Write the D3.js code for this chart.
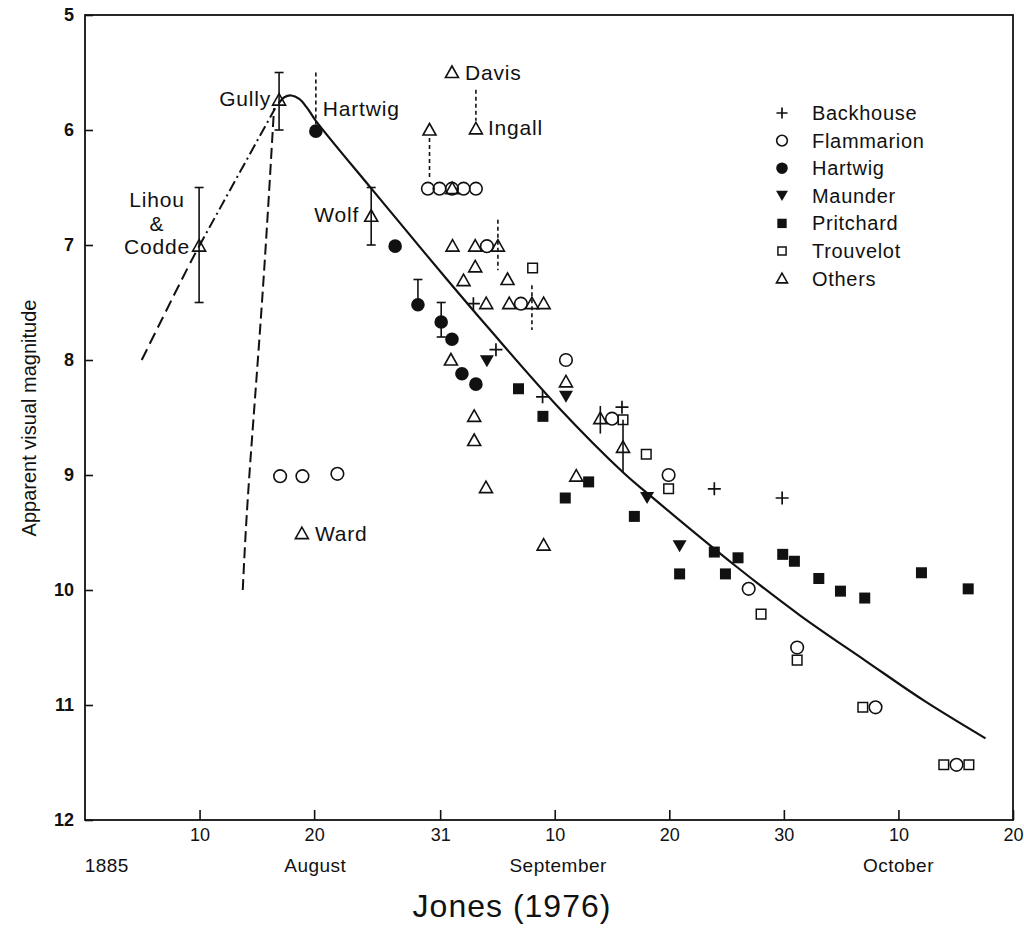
<!DOCTYPE html>
<html lang="en">
<head>
<meta charset="utf-8">
<title>S Andromedae 1885 light curve</title>
<script src="https://cdn.jsdelivr.net/npm/d3@7"></script>
<style>
  body { margin: 0; background: #fff; }
  text { font-family: "Liberation Sans", Arial, sans-serif; fill: #111; }
</style>
</head>
<body>
<script>
// x values are day numbers counted from 1 August 1885 (1 Sep = 32, 1 Oct = 62)
var xTicks = [10, 20, 31, 41, 51, 61, 71, 81];
var xTickLabels = ["10", "20", "31", "10", "20", "30", "10", "20"];
var yTicks = [5, 6, 7, 8, 9, 10, 11, 12];
var monthLabels = ["1885", "August", "September", "October"];
var observers = ["Backhouse", "Flammarion", "Hartwig", "Maunder", "Pritchard", "Trouvelot", "Others"];

var backhouse = [[33.9, 7.51], [35.87, 7.91], [39.94, 8.32], [46.87, 8.41], [54.93, 9.12], [60.85, 9.2]];
var flammarion = [[17.03, 9.01], [18.98, 9.01], [22.03, 8.99],
    [29.93, 6.51], [30.94, 6.51], [32.03, 6.51], [33.04, 6.51], [34.12, 6.51],
    [35.08, 7.01], [38.05, 7.51], [41.98, 8.0], [46.0, 8.51], [50.94, 9.0],
    [57.93, 9.99], [62.16, 10.5], [69.0, 11.02], [76.07, 11.52]];
var hartwig = [[20.15, 6.01], [27.07, 7.01], [29.06, 7.52], [31.09, 7.67], [32.03, 7.82], [32.9, 8.12], [34.12, 8.21]];
var maunder = [[35.08, 8.01], [41.98, 8.32], [49.06, 9.2], [51.9, 9.62]];
var pritchard = [[37.84, 8.25], [39.97, 8.49], [41.92, 9.2], [43.96, 9.06], [47.95, 9.36], [51.9, 9.86],
    [54.93, 9.67], [55.9, 9.86], [57.0, 9.72], [60.9, 9.69], [61.92, 9.75], [64.05, 9.9],
    [65.94, 10.01], [68.06, 10.07], [73.01, 9.85], [77.09, 9.99]];
var trouvelot = [[39.07, 7.2], [46.96, 8.52], [48.99, 8.82], [50.94, 9.12], [59.01, 10.21],
    [62.16, 10.61], [67.89, 11.02], [74.96, 11.52], [77.15, 11.52]];
var others = [[9.96, 7.01], [16.94, 5.74], [24.98, 6.75], [32.03, 5.5], [34.12, 5.99], [30.07, 6.0],
    [32.05, 6.51], [32.08, 7.01], [34.06, 7.01], [36.04, 7.01], [34.06, 7.19], [33.04, 7.31],
    [36.88, 7.3], [35.02, 7.51], [37.03, 7.51], [39.01, 7.51], [40.03, 7.51], [31.94, 8.0],
    [33.97, 8.49], [33.97, 8.7], [35.0, 9.11], [41.98, 8.19], [42.88, 9.01], [44.98, 8.51],
    [46.96, 8.76], [18.93, 9.51], [40.03, 9.61]];

// error bars: day, bright end, faint end, capped
var errorBars = [[9.96, 6.5, 7.5, true], [16.94, 5.5, 6.0, true], [24.98, 6.5, 7.0, true],
    [29.06, 7.3, 7.52, true], [31.09, 7.5, 7.8, true], [44.98, 8.4, 8.64, false], [46.96, 8.52, 8.98, false]];
// dotted connectors: day, from, to
var connectors = [[20.15, 5.5, 5.95], [34.12, 5.65, 5.92], [30.07, 6.07, 6.43], [36.04, 6.78, 7.22], [39.01, 7.35, 7.74]];

var fitCurve = [[16.9, 5.77], [17.4, 5.715], [18.0, 5.70], [18.7, 5.73], [19.4, 5.81], [20.15, 5.92],
    [25.0, 6.51], [27.5, 6.81], [31.6, 7.30], [35.2, 7.72], [41.5, 8.43], [47.0, 8.98], [49.1, 9.16],
    [56.9, 9.80], [62.4, 10.22], [68.2, 10.62], [73.2, 10.96], [78.6, 11.29]];
var riseUpper = [[9.96, 7.01], [16.6, 5.81]];
var riseLower = [[4.95, 8.0], [8.45, 7.30], [9.96, 7.01]];
var riseSteep = [[13.77, 10.0], [14.32, 9.04], [15.46, 7.48], [16.5, 5.81]];

var labels = [
    {text: "Gully", x: 16.94, y: 5.74, dx: -8, dy: 6, anchor: "end"},
    {text: "Hartwig", x: 20.15, y: 5.5, dx: 7, dy: 43, anchor: "start"},
    {text: "Wolf", x: 24.98, y: 6.75, dx: -12, dy: 6, anchor: "end"},
    {text: "Davis", x: 32.03, y: 5.5, dx: 13, dy: 7, anchor: "start"},
    {text: "Ingall", x: 34.12, y: 5.99, dx: 12, dy: 6, anchor: "start"},
    {text: "Ward", x: 18.93, y: 9.51, dx: 13, dy: 7, anchor: "start"}
];

var w = 1024, h = 928;
var x = d3.scaleLinear().domain([0, 81]).range([85, 1013]);
var y = d3.scaleLinear().domain([5, 12]).range([15, 820]);

var svg = d3.select("body").append("svg")
    .attr("width", w)
    .attr("height", h);

// axes
svg.append("g")
    .attr("transform", "translate(85,0)")
    .call(d3.axisLeft(y).tickValues(yTicks).tickSize(-8).tickPadding(11).tickFormat(d3.format("d")))
    .call(function(g) { g.select(".domain").remove(); })
    .call(function(g) {
        g.selectAll("line").attr("stroke", "#111").attr("stroke-width", 1.6);
        g.selectAll("text").attr("font-size", "18px").attr("font-weight", "bold")
            .attr("font-family", "Liberation Sans, Arial, sans-serif");
    });

svg.append("g")
    .attr("transform", "translate(0,820)")
    .call(d3.axisBottom(x).tickValues(xTicks).tickSize(-10).tickPadding(8)
        .tickFormat(function(d, i) { return xTickLabels[i]; }))
    .call(function(g) { g.select(".domain").remove(); })
    .call(function(g) {
        g.selectAll("line").attr("stroke", "#111").attr("stroke-width", 1.6);
        g.selectAll("text").attr("font-size", "18px")
            .attr("font-family", "Liberation Sans, Arial, sans-serif");
    });

svg.append("rect")
    .attr("x", 85).attr("y", 15)
    .attr("width", 1013 - 85).attr("height", 820 - 15)
    .attr("fill", "none")
    .attr("stroke", "#111")
    .attr("stroke-width", 1.8);

var monthX = [1.9, 20.1, 41.3, 71.0];
svg.selectAll("text.month")
    .data(monthLabels)
    .enter()
    .append("text")
    .attr("class", "month")
    .attr("x", function(d, i) { return x(monthX[i]); })
    .attr("y", 872)
    .attr("text-anchor", "middle")
    .attr("font-size", "19px")
    .attr("letter-spacing", "0.5px")
    .text(function(d) { return d; });

svg.append("text")
    .attr("transform", "translate(36,418) rotate(-90)")
    .attr("text-anchor", "middle")
    .attr("font-size", "20px")
    .text("Apparent visual magnitude");

svg.append("text")
    .attr("x", 512)
    .attr("y", 917)
    .attr("text-anchor", "middle")
    .attr("font-size", "32px")
    .attr("letter-spacing", "1px")
    .text("Jones (1976)");

// curves
var line = d3.line()
    .x(function(d) { return x(d[0]); })
    .y(function(d) { return y(d[1]); });

svg.append("path")
    .attr("d", line.curve(d3.curveCatmullRom.alpha(0.5))(fitCurve))
    .attr("fill", "none").attr("stroke", "#111").attr("stroke-width", 2.2);

svg.append("path")
    .attr("d", line.curve(d3.curveLinear)(riseUpper))
    .attr("fill", "none").attr("stroke", "#111").attr("stroke-width", 2)
    .attr("stroke-dasharray", "11,4,2,4");

svg.append("path")
    .attr("d", line.curve(d3.curveNatural)(riseLower))
    .attr("fill", "none").attr("stroke", "#111").attr("stroke-width", 2)
    .attr("stroke-dasharray", "12,6");

svg.append("path")
    .attr("d", line.curve(d3.curveNatural)(riseSteep))
    .attr("fill", "none").attr("stroke", "#111").attr("stroke-width", 2)
    .attr("stroke-dasharray", "11,5");

// dotted connectors
svg.selectAll("line.conn")
    .data(connectors)
    .enter()
    .append("line")
    .attr("x1", function(d) { return x(d[0]); })
    .attr("x2", function(d) { return x(d[0]); })
    .attr("y1", function(d) { return y(d[1]); })
    .attr("y2", function(d) { return y(d[2]); })
    .attr("stroke", "#111").attr("stroke-width", 1.6)
    .attr("stroke-dasharray", "4,3");

// error bars
var eb = svg.selectAll("g.err")
    .data(errorBars)
    .enter()
    .append("g");
eb.append("line")
    .attr("x1", function(d) { return x(d[0]); })
    .attr("x2", function(d) { return x(d[0]); })
    .attr("y1", function(d) { return y(d[1]); })
    .attr("y2", function(d) { return y(d[2]); })
    .attr("stroke", "#111").attr("stroke-width", 1.6);
eb.filter(function(d) { return d[3]; })
    .selectAll("line.cap")
    .data(function(d) { return [[d[0], d[1]], [d[0], d[2]]]; })
    .enter()
    .append("line")
    .attr("x1", function(d) { return x(d[0]) - 4.5; })
    .attr("x2", function(d) { return x(d[0]) + 4.5; })
    .attr("y1", function(d) { return y(d[1]); })
    .attr("y2", function(d) { return y(d[1]); })
    .attr("stroke", "#111").attr("stroke-width", 1.6);

// marker shapes
var shapes = {
    Backhouse: {d: "M-6.5,0H6.5M0,-6.5V6.5", fill: "none", stroke: 1.7},
    Flammarion: {d: "M6.3,0A6.3,6.3 0 1,1 -6.3,0A6.3,6.3 0 1,1 6.3,0Z", fill: "none", stroke: 1.6},
    Hartwig: {d: "M6.8,0A6.8,6.8 0 1,1 -6.8,0A6.8,6.8 0 1,1 6.8,0Z", fill: "#111", stroke: 0},
    Maunder: {d: "M-7,-6L7,-6L0,6Z", fill: "#111", stroke: 0},
    Pritchard: {d: "M-5.5,-5.5H5.5V5.5H-5.5Z", fill: "#111", stroke: 0},
    Trouvelot: {d: "M-4.8,-4.8H4.8V4.8H-4.8Z", fill: "none", stroke: 1.5},
    Others: {d: "M0,-6.5L6.5,5L-6.5,5Z", fill: "none", stroke: 1.6}
};
var seriesData = [backhouse, flammarion, hartwig, maunder, pritchard, trouvelot, others];

observers.forEach(function(name, i) {
    var s = shapes[name];
    svg.append("g")
        .selectAll("path")
        .data(seriesData[i])
        .enter()
        .append("path")
        .attr("transform", function(d) { return "translate(" + x(d[0]) + "," + y(d[1]) + ")"; })
        .attr("d", s.d)
        .attr("fill", s.fill)
        .attr("stroke", "#111")
        .attr("stroke-width", s.stroke);
});

// annotations
svg.selectAll("text.note")
    .data(labels)
    .enter()
    .append("text")
    .attr("x", function(d) { return x(d.x) + d.dx; })
    .attr("y", function(d) { return y(d.y) + d.dy; })
    .attr("text-anchor", function(d) { return d.anchor; })
    .attr("font-size", "21px")
    .attr("letter-spacing", "0.8px")
    .text(function(d) { return d.text; });

var lihou = svg.append("text")
    .attr("text-anchor", "middle")
    .attr("font-size", "21px")
    .attr("letter-spacing", "0.8px");
["Lihou", "&", "Codde"].forEach(function(t, i) {
    lihou.append("tspan")
        .attr("x", 157)
        .attr("y", 207 + i * 23.5)
        .text(t);
});

// legend
var legend = svg.append("g").attr("transform", "translate(782,113)");
observers.forEach(function(name, i) {
    var s = shapes[name];
    legend.append("path")
        .attr("transform", "translate(0," + (i * 27.6) + ") scale(0.85)")
        .attr("d", s.d)
        .attr("fill", s.fill)
        .attr("stroke", "#111")
        .attr("stroke-width", s.stroke / 0.85);
    legend.append("text")
        .attr("x", 30)
        .attr("y", i * 27.6 + 7)
        .attr("font-size", "20px")
        .attr("letter-spacing", "0.7px")
        .text(name);
});
</script>
</body>
</html>
